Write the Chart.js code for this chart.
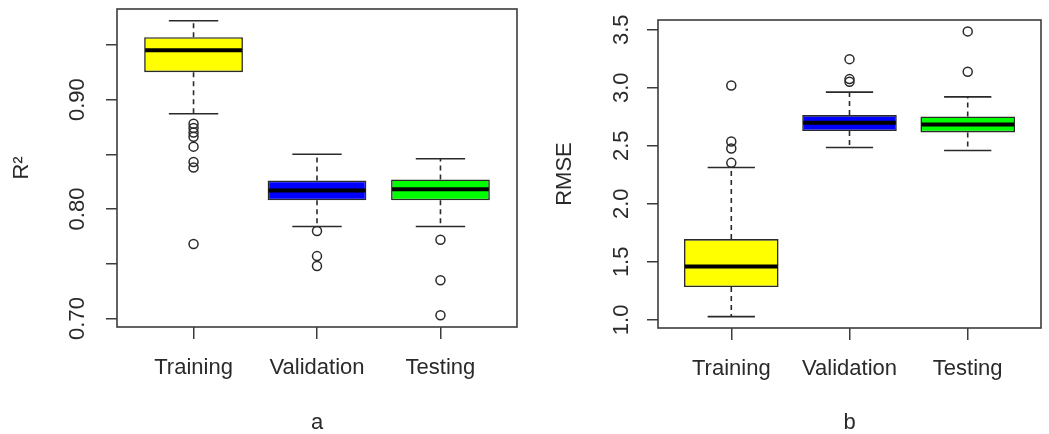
<!DOCTYPE html>
<html>
<head>
<meta charset="utf-8">
<script src="https://cdn.jsdelivr.net/npm/chart.js@4"></script>
<style>
  body { margin: 0; background: #fff; }
  .panel { position: absolute; top: 0; height: 434px; }
  #left { left: 0; width: 524px; }
  #right { left: 524px; width: 525px; }
</style>
</head>
<body>
<div class="panel" id="left"><canvas id="r2Chart"></canvas></div>
<div class="panel" id="right"><canvas id="rmseChart"></canvas></div>
<script>
const categories = ['Training', 'Validation', 'Testing'];
const boxColors = ['#ffff00', '#0000ff', '#00ff00'];

// panel a: R squared
const r2WhiskerLow = [0.887, 0.784, 0.784];
const r2Q1 = [0.925, 0.808, 0.808];
const r2Median = [0.945, 0.817, 0.818];
const r2Q3 = [0.957, 0.826, 0.827];
const r2WhiskerHigh = [0.972, 0.850, 0.846];
const r2Outliers = [
    [0.878, 0.874, 0.870, 0.866, 0.857, 0.843, 0.838, 0.768],
    [0.780, 0.757, 0.748],
    [0.772, 0.735, 0.703]
];
const r2Ticks = [0.70, 0.75, 0.80, 0.85, 0.90, 0.95];
const r2TickLabels = ['0.70', '', '0.80', '', '0.90', ''];

// panel b: RMSE
const rmseWhiskerLow = [1.028, 2.486, 2.460];
const rmseQ1 = [1.282, 2.627, 2.615];
const rmseMedian = [1.460, 2.698, 2.684];
const rmseQ3 = [1.696, 2.765, 2.753];
const rmseWhiskerHigh = [2.313, 2.963, 2.922];
const rmseOutliers = [
    [3.020, 2.537, 2.477, 2.353],
    [3.247, 3.075, 3.052],
    [3.486, 3.138]
];
const rmseTicks = [1.0, 1.5, 2.0, 2.5, 3.0, 3.5];
const rmseTickLabels = ['1.0', '1.5', '2.0', '2.5', '3.0', '3.5'];

const ink = '#2a2a2a';
const frameColor = '#3c3c3c';
const font = { family: '"Liberation Sans", Arial, sans-serif', size: 22 };

// whiskers, caps, medians and the frame round the plot
const boxParts = {
    id: 'boxParts',
    beforeDatasetsDraw(chart, args, opts) {
        const { ctx, scales: { x, y } } = chart;
        const bars = chart.getDatasetMeta(0).data;
        ctx.save();
        ctx.strokeStyle = ink;
        ctx.lineWidth = 1.6;
        opts.median.forEach((m, i) => {
            const cx = x.getPixelForValue(i + 1);
            const cap = bars[i].width / 4;
            const hi = y.getPixelForValue(opts.hi[i]);
            const lo = y.getPixelForValue(opts.lo[i]);
            ctx.setLineDash([5, 4]);
            ctx.beginPath();
            ctx.moveTo(cx, y.getPixelForValue(opts.q3[i]));
            ctx.lineTo(cx, hi);
            ctx.moveTo(cx, y.getPixelForValue(opts.q1[i]));
            ctx.lineTo(cx, lo);
            ctx.stroke();
            ctx.setLineDash([]);
            ctx.beginPath();
            ctx.moveTo(cx - cap, hi);
            ctx.lineTo(cx + cap, hi);
            ctx.moveTo(cx - cap, lo);
            ctx.lineTo(cx + cap, lo);
            ctx.stroke();
        });
        ctx.restore();
    },
    afterDatasetsDraw(chart, args, opts) {
        const { ctx, chartArea, scales: { x, y } } = chart;
        const bars = chart.getDatasetMeta(0).data;
        ctx.save();
        ctx.strokeStyle = '#000';
        ctx.lineWidth = 4;
        opts.median.forEach((m, i) => {
            const cx = x.getPixelForValue(i + 1);
            const half = bars[i].width / 2;
            const my = y.getPixelForValue(m);
            ctx.beginPath();
            ctx.moveTo(cx - half + 1, my);
            ctx.lineTo(cx + half - 1, my);
            ctx.stroke();
        });
        ctx.strokeStyle = frameColor;
        ctx.lineWidth = 1.6;
        ctx.strokeRect(chartArea.left, chartArea.top, chartArea.right - chartArea.left, chartArea.bottom - chartArea.top);
        ctx.restore();
    }
};

function makeChart(id, s, ticks, tickLabels, yTitle, xTitle, box) {
    const all = s.lo.concat(s.hi, s.outliers.flat());
    const dMin = Math.min(...all);
    const dMax = Math.max(...all);
    const ext = (dMax - dMin) * 0.04;

    return new Chart(document.getElementById(id), {
        type: 'bar',
        data: {
            datasets: [{
                type: 'bar',
                data: categories.map((c, i) => ({ x: i + 1, y: [s.q1[i], s.q3[i]] })),
                backgroundColor: boxColors,
                borderColor: ink,
                borderWidth: 1.6,
                borderSkipped: false,
                categoryPercentage: 0.8,
                barPercentage: 1
            }, {
                type: 'scatter',
                data: s.outliers.flatMap((vals, i) => vals.map(v => ({ x: i + 1, y: v }))),
                pointStyle: 'circle',
                pointRadius: 4.5,
                backgroundColor: 'rgba(0,0,0,0)',
                borderColor: ink,
                borderWidth: 1.5
            }]
        },
        options: {
            responsive: true,
            maintainAspectRatio: false,
            animation: false,
            layout: { padding: box.pad },
            plugins: {
                legend: { display: false },
                tooltip: { enabled: false },
                boxParts: { lo: s.lo, q1: s.q1, median: s.median, q3: s.q3, hi: s.hi }
            },
            scales: {
                x: {
                    type: 'linear',
                    offset: false,
                    min: 0.5 - 3 * 0.04,
                    max: 3.5 + 3 * 0.04,
                    afterBuildTicks: sc => { sc.ticks = categories.map((c, i) => ({ value: i + 1 })); },
                    afterFit: sc => {
                        sc.height = box.xHeight;
                        sc.paddingLeft = 0;
                        sc.paddingRight = 0;
                    },
                    ticks: {
                        callback: v => categories[Math.round(v) - 1],
                        autoSkip: false,
                        maxRotation: 0,
                        padding: 16,
                        color: ink,
                        font: font
                    },
                    grid: { offset: false, drawOnChartArea: false, drawTicks: true, tickLength: 12, color: frameColor, lineWidth: 1.5 },
                    border: { display: false },
                    title: { display: true, text: xTitle, color: ink, font: { ...font, lineHeight: 1 }, padding: 0 }
                },
                y: {
                    type: 'linear',
                    min: dMin - ext,
                    max: dMax + ext,
                    afterBuildTicks: sc => { sc.ticks = ticks.map(v => ({ value: v })); },
                    afterFit: sc => {
                        sc.width = box.yWidth;
                        sc.paddingTop = 0;
                        sc.paddingBottom = 0;
                    },
                    ticks: {
                        callback: (v, i) => tickLabels[i],
                        autoSkip: false,
                        minRotation: 90,
                        maxRotation: 90,
                        crossAlign: 'center',
                        padding: box.tickPad,
                        color: ink,
                        font: font
                    },
                    grid: { drawOnChartArea: false, drawTicks: true, tickLength: 11, color: frameColor, lineWidth: 1.5 },
                    border: { display: false },
                    title: { display: true, text: yTitle, color: ink, font: font, padding: { top: box.titlePad, bottom: 0 } }
                }
            }
        },
        plugins: [boxParts]
    });
}

makeChart('r2Chart',
    { lo: r2WhiskerLow, q1: r2Q1, median: r2Median, q3: r2Q3, hi: r2WhiskerHigh, outliers: r2Outliers },
    r2Ticks, r2TickLabels, 'R²', 'a',
    { pad: { left: 0, top: 9, right: 7, bottom: 0 }, yWidth: 117, xHeight: 107, tickPad: 7, titlePad: 9 });

makeChart('rmseChart',
    { lo: rmseWhiskerLow, q1: rmseQ1, median: rmseMedian, q3: rmseQ3, hi: rmseWhiskerHigh, outliers: rmseOutliers },
    rmseTicks, rmseTickLabels, 'RMSE', 'b',
    { pad: { left: 0, top: 20, right: 8, bottom: 0 }, yWidth: 134, xHeight: 106, tickPad: 10, titlePad: 28 });
</script>
</body>
</html>
